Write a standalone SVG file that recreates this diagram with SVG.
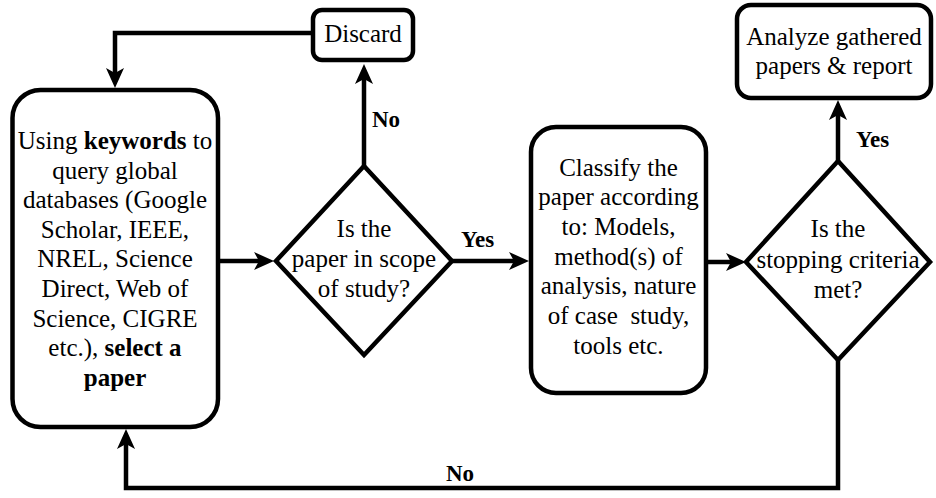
<svg xmlns="http://www.w3.org/2000/svg" width="936" height="498" viewBox="0 0 936 498">
<rect x="0" y="0" width="936" height="498" fill="#fff"/>
<g id="connectors">
<g fill="none" stroke="#000" stroke-width="4.5">
<path d="M313,33 H115 V73"/>
<path d="M364,166 V79"/>
<path d="M219,261 H259"/>
<path d="M452,261 H514"/>
<path d="M706,262 H731"/>
<path d="M838,161 V115"/>
<path d="M838,360 V488 H126 V444"/>
</g>
<g fill="#000" stroke="none">
<polygon points="115,88 106,68 115,73 124,68"/>
<polygon points="364,64 355,84 364,79 373,84"/>
<polygon points="274,261 254,252 259,261 254,270"/>
<polygon points="529,261 509,252 514,261 509,270"/>
<polygon points="746,262 726,253 731,262 726,271"/>
<polygon points="838,100 829,120 838,115 847,120"/>
<polygon points="126,429 117,449 126,444 135,449"/>
</g>
<text font-family="Times New Roman" font-size="23" font-weight="bold" x="372" y="127">No</text>
<text font-family="Times New Roman" font-size="23" font-weight="bold" x="461" y="247">Yes</text>
<text font-family="Times New Roman" font-size="23" font-weight="bold" x="856" y="147">Yes</text>
<text font-family="Times New Roman" font-size="23" font-weight="bold" x="446" y="481">No</text>
</g>
<g id="search">
<rect fill="#fff" stroke="#000" stroke-width="4.5" x="12.5" y="90" width="205.5" height="337" rx="28"/>
<text font-family="Times New Roman" font-size="25" text-anchor="middle" x="115" y="149">Using <tspan font-weight="bold">keywords</tspan> to</text>
<text font-family="Times New Roman" font-size="25" text-anchor="middle" x="115" y="178.6">query global</text>
<text font-family="Times New Roman" font-size="25" text-anchor="middle" x="115" y="208.2">databases (Google</text>
<text font-family="Times New Roman" font-size="25" text-anchor="middle" x="115" y="237.8">Scholar, IEEE,</text>
<text font-family="Times New Roman" font-size="25" text-anchor="middle" x="115" y="267.4">NREL, Science</text>
<text font-family="Times New Roman" font-size="25" text-anchor="middle" x="115" y="297">Direct, Web of</text>
<text font-family="Times New Roman" font-size="25" text-anchor="middle" x="115" y="326.6">Science, CIGRE</text>
<text font-family="Times New Roman" font-size="25" text-anchor="middle" x="115" y="356.2">etc.), <tspan font-weight="bold">select a</tspan></text>
<text font-family="Times New Roman" font-size="25" text-anchor="middle" font-weight="bold" x="115" y="385.8">paper</text>
</g>
<g id="discard">
<rect fill="#fff" stroke="#000" stroke-width="4.5" x="313" y="10" width="100" height="50" rx="9"/>
<text font-family="Times New Roman" font-size="25" text-anchor="middle" x="363" y="42">Discard</text>
</g>
<g id="scope">
<polygon fill="#fff" stroke="#000" stroke-width="4.5" points="364,166 452,261 364,355 276,261"/>
<text font-family="Times New Roman" font-size="25" text-anchor="middle" x="364" y="237">Is the</text>
<text font-family="Times New Roman" font-size="25" text-anchor="middle" x="364" y="267">paper in scope</text>
<text font-family="Times New Roman" font-size="25" text-anchor="middle" x="364" y="297">of study?</text>
</g>
<g id="classify">
<rect fill="#fff" stroke="#000" stroke-width="4.5" x="531" y="127" width="175" height="266" rx="25"/>
<text font-family="Times New Roman" font-size="25" text-anchor="middle" x="618.5" y="175.5">Classify the</text>
<text font-family="Times New Roman" font-size="25" text-anchor="middle" x="618.5" y="205">paper according</text>
<text font-family="Times New Roman" font-size="25" text-anchor="middle" x="618.5" y="235">to: Models,</text>
<text font-family="Times New Roman" font-size="25" text-anchor="middle" x="618.5" y="264.5">method(s) of</text>
<text font-family="Times New Roman" font-size="25" text-anchor="middle" x="618.5" y="294">analysis, nature</text>
<text font-family="Times New Roman" font-size="25" text-anchor="middle" x="618.5" y="324" xml:space="preserve">of case  study,</text>
<text font-family="Times New Roman" font-size="25" text-anchor="middle" x="618.5" y="353.5">tools etc.</text>
</g>
<g id="stopping">
<polygon fill="#fff" stroke="#000" stroke-width="4.5" points="838,161 930,262 838,360 746,262"/>
<text font-family="Times New Roman" font-size="25" text-anchor="middle" x="838" y="237">Is the</text>
<text font-family="Times New Roman" font-size="25" text-anchor="middle" x="838" y="268">stopping criteria</text>
<text font-family="Times New Roman" font-size="25" text-anchor="middle" x="838" y="298">met?</text>
</g>
<g id="analyze">
<rect fill="#fff" stroke="#000" stroke-width="4.5" x="737" y="5" width="194" height="93" rx="14"/>
<text font-family="Times New Roman" font-size="25" text-anchor="middle" x="834" y="45">Analyze gathered</text>
<text font-family="Times New Roman" font-size="25" text-anchor="middle" x="834" y="74">papers &amp; report</text>
</g>
</svg>
